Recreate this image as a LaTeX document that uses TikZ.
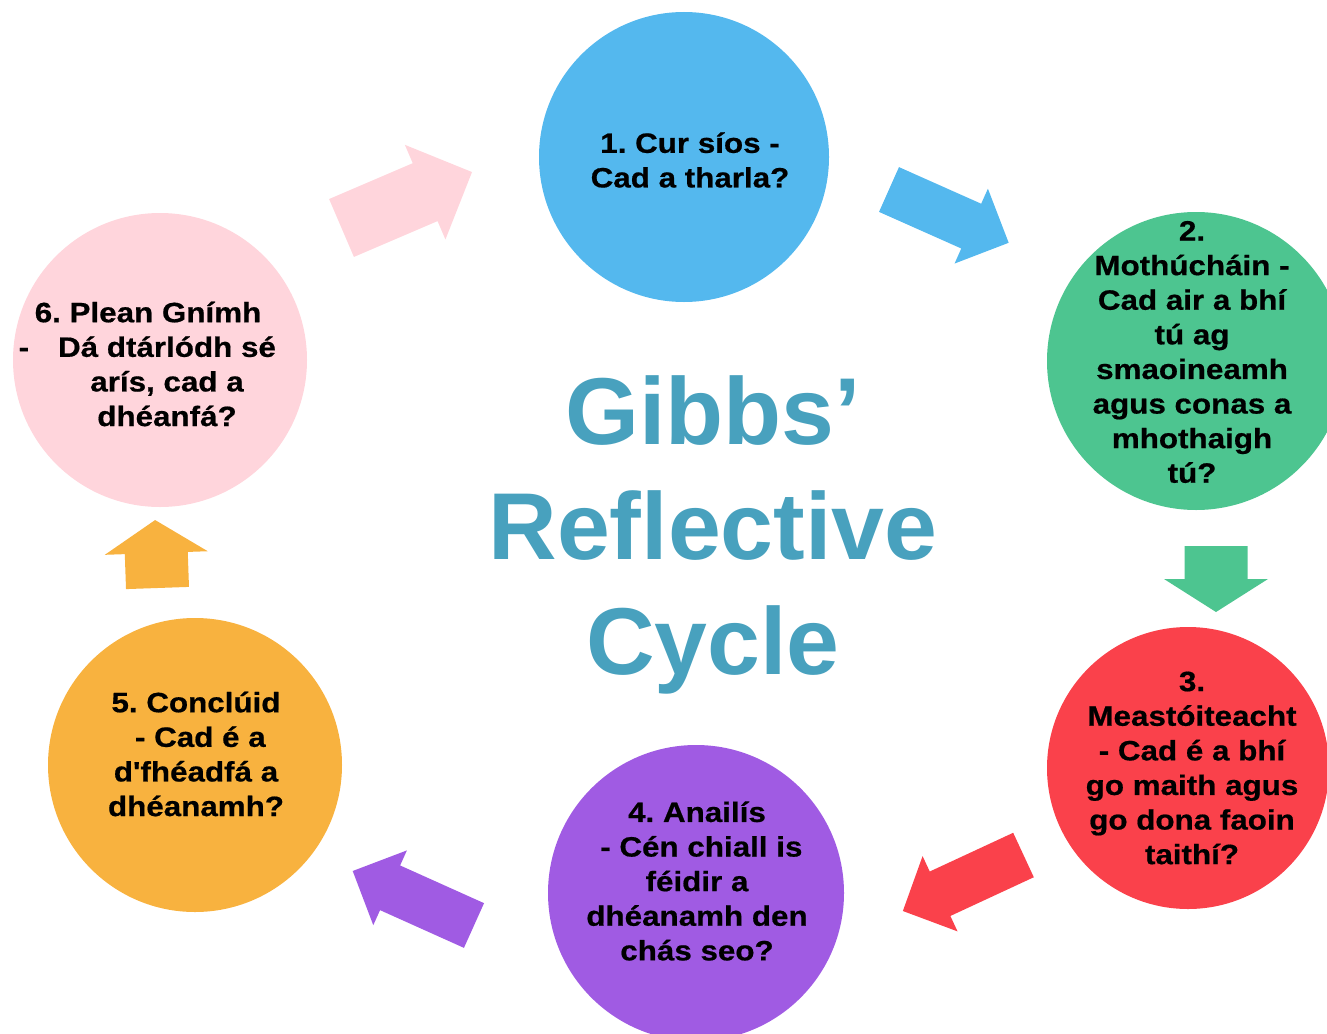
\documentclass[tikz,border=0pt]{standalone}
\usepackage{fontspec}
\setmainfont{Liberation Sans}
\newfontfamily\circfont{Liberation Sans}[FakeStretch=1.12, BoldFeatures={FakeBold=0.6}]
\frenchspacing
\definecolor{cpink}{HTML}{FFD5DC}
\definecolor{cblue}{HTML}{54B8EE}
\definecolor{cgreen}{HTML}{4DC590}
\definecolor{cred}{HTML}{FA414B}
\definecolor{cpurple}{HTML}{A05BE3}
\definecolor{corange}{HTML}{F8B23F}
\definecolor{ctitle}{HTML}{48A1BE}
\tikzset{
	pics/blockarrow/.style n args={5}{code={
		\fill[#1] (0,-#3/2) -- (#2,-#3/2) -- (#2,-#4/2) -- (#2+#5,0) -- (#2,#4/2) -- (#2,#3/2) -- (0,#3/2) -- cycle;
	}},
	stage/.style={circle, minimum size=#1, inner sep=0pt},
	steptext/.style={font=\circfont\bfseries\fontsize{28}{34.6}\selectfont, align=center, inner sep=0pt},
	bigtitle/.style={font=\bfseries\fontsize{95}{115}\selectfont, text=ctitle, align=center, inner sep=0pt}
}
\begin{document}
\begin{tikzpicture}[x=1pt, y=-1pt]
		\path[use as bounding box, clip] (0,0) rectangle (1327,1033);
		% the six stages
		\node[stage=290pt, fill=cblue] (c1) at (684,157) {};
		\node[stage=298pt, fill=cgreen] (c2) at (1196,361) {};
		\node[stage=282pt, fill=cred] (c3) at (1188,768) {};
		\node[stage=296pt, fill=cpurple] (c4) at (696,893) {};
		\node[stage=294pt, fill=corange] (c5) at (195,765) {};
		\node[stage=294pt, fill=cpink] (c6) at (160,360) {};
		% arrows between them
		\pic[rotate=23.2] at (341.5,228) {blockarrow={cpink}{91}{63}{103}{51}};
		\pic[rotate=-24] at (889,189.5) {blockarrow={cblue}{90}{49}{82}{41}};
		\pic[rotate=-90] at (1216,546) {blockarrow={cgreen}{33}{63}{104}{33}};
		\pic[rotate=-155.1] at (1023.5,855) {blockarrow={cred}{92}{49}{83}{41}};
		\pic[rotate=155.8] at (474,925.5) {blockarrow={cpurple}{92}{49}{82}{41}};
		\pic[rotate=92] at (157.5,588) {blockarrow={corange}{35}{63}{103}{33}};
		% texts
		\node[steptext] (t1) at (690,160) {1. Cur síos -\\Cad a tharla?};
		\node[steptext] (t2) at (1192,352) {2.\\Mothúcháin -\\Cad air a bhí\\tú ag\\smaoineamh\\agus conas a\\mhothaigh\\tú?};
		\node[steptext] (t3) at (1192,768) {3.\\Meastóiteacht\\- Cad é a bhí\\go maith agus\\go dona faoin\\taithí?};
		\node[steptext] (t4) at (697,881) {4. Anailís\\\ - Cén chiall is\\féidir a\\dhéanamh den\\chás seo?};
		\node[steptext] (t5) at (196,754) {5. Conclúid\\\ - Cad é a\\d'fhéadfá a\\dhéanamh?};
		\node[steptext] (t6) at (167,364) {6. Plean Gnímh\hspace*{38pt}\\\llap{-\hspace{29pt}}Dá dtárlódh sé\\arís, cad a\\dhéanfá?};
		\node[bigtitle] (gibbs) at (713,535) {Gibbs’\\Reflective\\Cycle};
	\end{tikzpicture}
\end{document}
